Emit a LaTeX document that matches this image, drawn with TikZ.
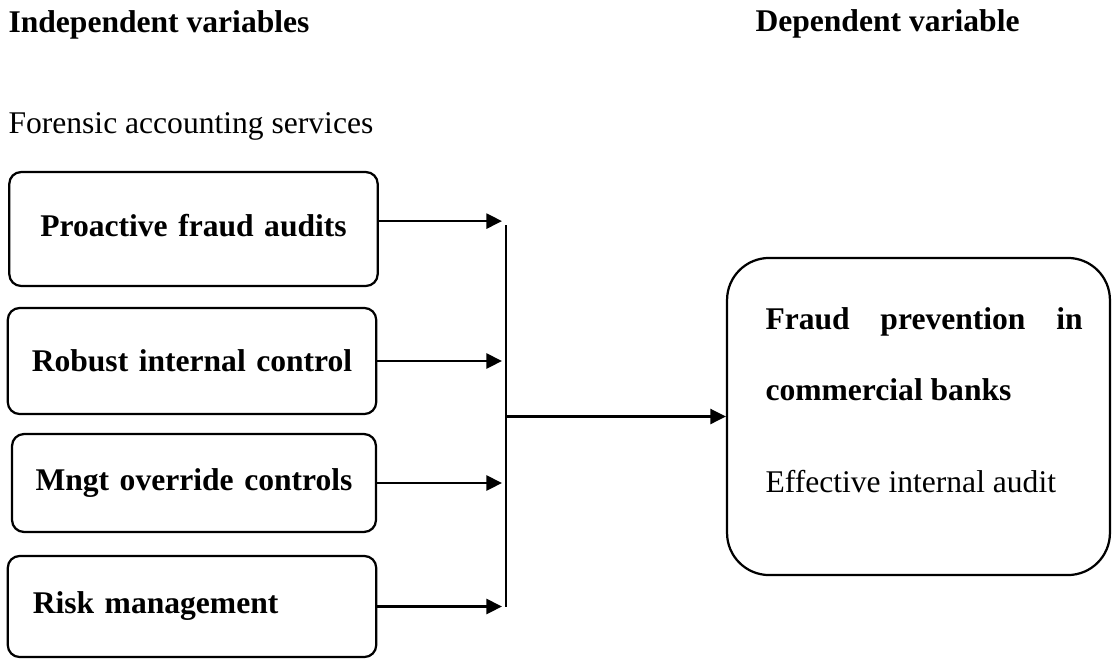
\documentclass[tikz,border=0pt]{standalone}
\usepackage{fontspec}
\setmainfont{Liberation Serif}
\usetikzlibrary{arrows.meta,positioning}

\begin{document}
\begin{tikzpicture}[
  x=0.38pt, y=-0.38pt,
  font=\fontsize{12}{14.4}\selectfont,
  head/.style={anchor=base west, inner sep=0pt, font=\fontsize{12}{14.4}\selectfont\bfseries},
  ivbox/.style={draw, line width=0.85pt, rounded corners=4.5pt, inner xsep=4pt, inner ysep=0pt,
                text width=132pt, align=center, font=\fontsize{12}{14.4}\selectfont\bfseries},
  dvbox/.style={draw, line width=0.85pt, rounded corners=16pt,
                minimum width=145.5pt, minimum height=120.5pt},
  arr/.style={-{Triangle[length=5.9pt,width=5.7pt]}, line width=0.85pt},
]
  \useasboundingbox (0,0) rectangle (1112,659);

  % headings
  \node[head] (ivh) at (8,32)  {Independent variables};
  \node[head] (dvh) at (755,31) {Dependent variable};
  \node[anchor=base west, inner sep=0pt] (fas) at (8,133) {Forensic accounting services};

  % independent variables
  \node[ivbox, minimum height=43.3pt] (pfa) at (193.5,229) {\raisebox{2.5pt}{Proactive fraud audits}};
  \node[ivbox, minimum height=40.3pt] (ric) at (192,361)   {Robust internal control};
  \node[ivbox, minimum height=37.2pt, text width=130.3pt] (moc) at (194,483) {Mngt override controls};
  \node[ivbox, minimum height=38.4pt, inner xsep=9.5pt, text width=121pt, align=left] (rm) at (192,606.5) {Risk management};

  % dependent variable
  \node[dvbox] (fpb) at (918.5,416.5) {};
  \node[anchor=base west, inner sep=0pt, text width=120.5pt, align=justify,
        font=\fontsize{12}{27}\selectfont\bfseries] (fpbt) at (765,329)
    {Fraud prevention in commercial banks};
  \node[anchor=base west, inner sep=0pt] (eia) at (765,492) {Effective internal audit};

  % bus line
  \coordinate (tip)  at (502,0);
  \coordinate (bus1) at (506,225);
  \coordinate (bus2) at (506,607);

  \draw[arr] ([yshift=3pt]pfa.east) -- ([yshift=3pt]pfa.east -| tip);
  \draw[arr] (ric.east) -- (ric.east -| tip);
  \draw[arr] (moc.east) -- (moc.east -| tip);
  \draw[arr] (rm.east) -- (rm.east -| tip);
  \draw[line width=0.85pt] (bus1) -- (bus2);
  \draw[arr] (bus1 |- fpb.west) -- (fpb.west);
\end{tikzpicture}
\end{document}
